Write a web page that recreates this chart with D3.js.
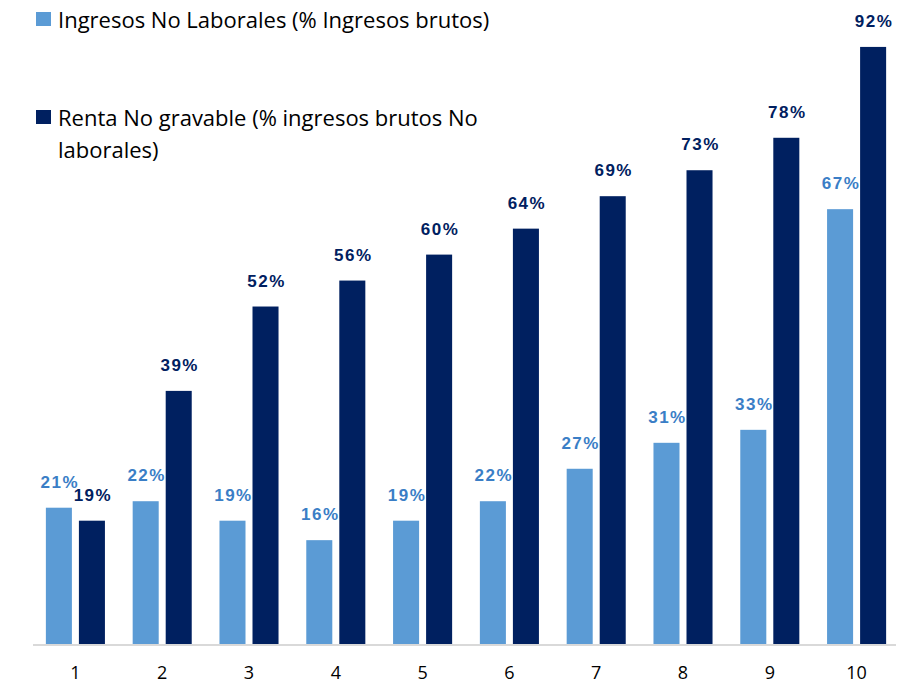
<!DOCTYPE html>
<html>
<head>
<meta charset="utf-8">
<script src="https://cdn.jsdelivr.net/npm/d3@7"></script>
<style>
  body { margin: 0; background: #fff; }
  svg { display: block; }
</style>
</head>
<body>
<div class="container"></div>
<script>
const deciles = ["1", "2", "3", "4", "5", "6", "7", "8", "9", "10"];
const ingresosNoLaborales = [21, 22, 19, 16, 19, 22, 27, 31, 33, 67];
const rentaNoGravable = [19, 39, 52, 56, 60, 64, 69, 73, 78, 92];
const seriesNames = ["Ingresos No Laborales (% Ingresos brutos)", "Renta No gravable (% ingresos brutos No laborales)"];

const width = 907;
const height = 685;
const colors = ["#5B9BD5", "#002060"];
const labelColors = ["#3A7EC6", "#002060"];

const svg = d3.select(".container")
    .append("svg")
    .attr("width", width)
    .attr("height", height)
    .attr("viewBox", `0 0 ${width} ${height}`);

svg.append("rect")
    .attr("width", width)
    .attr("height", height)
    .attr("fill", "#ffffff");

const x = d3.scaleBand().domain(deciles).range([32, 900]).paddingInner(0);
const xInner = d3.scaleBand()
    .domain([0, 1])
    .range([0, x.bandwidth()])
    .paddingInner(0.212)
    .paddingOuter(0.42);
const y = d3.scaleLinear().domain([0, 100]).range([644, -5]);

const rows = deciles.map((d, i) => ({ decile: d, values: [ingresosNoLaborales[i], rentaNoGravable[i]] }));

// bars
const groups = svg.append("g")
    .selectAll("g")
    .data(rows)
    .join("g")
    .attr("transform", d => `translate(${x(d.decile)},0)`);

groups.selectAll("rect")
    .data(d => d.values.map((v, s) => ({ v, s })))
    .join("rect")
    .attr("x", d => xInner(d.s))
    .attr("y", d => y(d.v))
    .attr("width", xInner.bandwidth())
    .attr("height", d => y(0) - y(d.v))
    .attr("fill", d => colors[d.s]);

// value labels
groups.selectAll("text")
    .data(d => d.values.map((v, s) => ({ v, s })))
    .join("text")
    .attr("x", d => xInner(d.s) + xInner.bandwidth() / 2 + 1)
    .attr("y", d => y(d.v) - 20)
    .attr("text-anchor", "middle")
    .style("font-family", "'Liberation Sans', Arial, sans-serif")
    .style("font-size", "17px")
    .style("font-weight", "bold")
    .style("letter-spacing", "1.5px")
    .attr("fill", d => labelColors[d.s])
    .text(d => `${d.v}%`);

// axis line
svg.append("line")
    .attr("x1", 33)
    .attr("x2", 896)
    .attr("y1", y(0) + 1)
    .attr("y2", y(0) + 1)
    .attr("stroke", "#D9D9D9")
    .attr("stroke-width", 2);

// category labels
const xAxis = svg.append("g")
    .attr("transform", `translate(0,${y(0)})`)
    .call(d3.axisBottom(x).tickSize(0).tickPadding(22));
xAxis.select(".domain").remove();
xAxis.selectAll("text")
    .style("font-family", "'Open Sans', 'Liberation Sans', sans-serif")
    .style("font-size", "18px")
    .attr("fill", "#000");

// legend
const legend = svg.append("g");
legend.append("rect")
    .attr("x", 36).attr("y", 12).attr("width", 15).attr("height", 14)
    .attr("fill", colors[0]);
legend.append("text")
    .attr("x", 58).attr("y", 28)
    .style("font-family", "'Open Sans', 'Liberation Sans', sans-serif")
    .style("font-size", "22px")
    .attr("fill", "#000")
    .text(seriesNames[0]);

legend.append("rect")
    .attr("x", 36).attr("y", 110).attr("width", 15).attr("height", 14)
    .attr("fill", colors[1]);
const t2 = legend.append("text")
    .style("font-family", "'Open Sans', 'Liberation Sans', sans-serif")
    .style("font-size", "22px")
    .attr("fill", "#000");
t2.append("tspan").attr("x", 58).attr("y", 126).text("Renta No gravable (% ingresos brutos No");
t2.append("tspan").attr("x", 58).attr("y", 158).text("laborales)");
</script>
</body>
</html>
